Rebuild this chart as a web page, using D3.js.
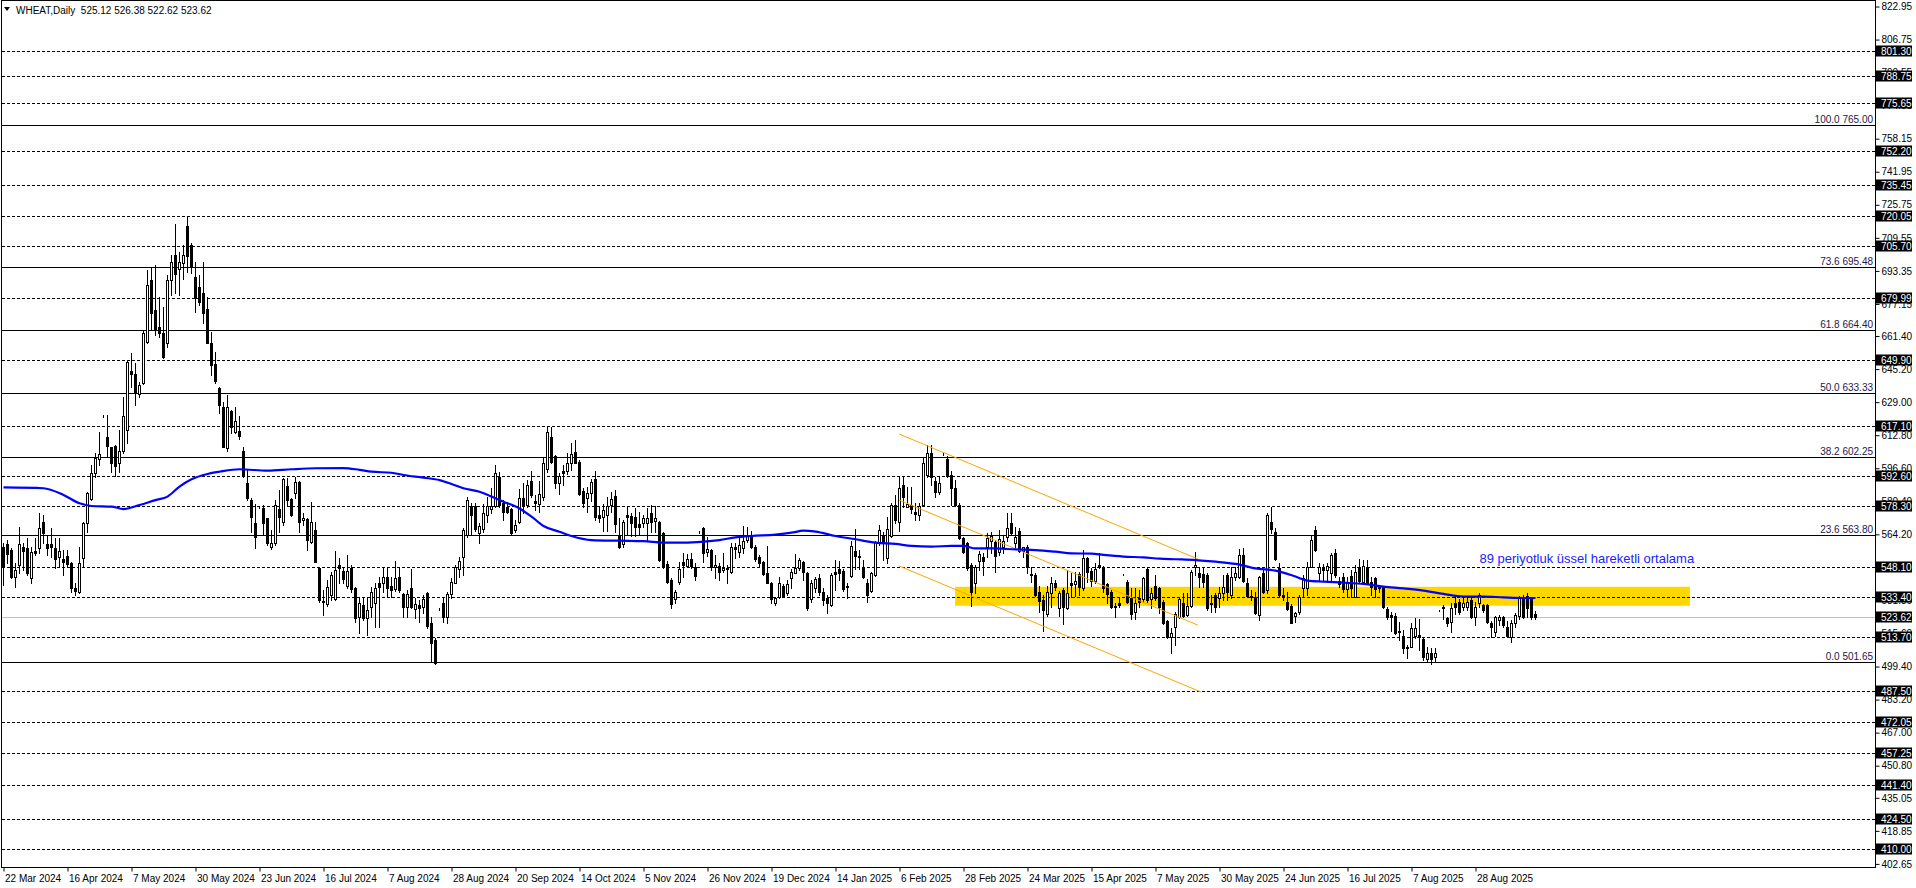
<!DOCTYPE html>
<html><head><meta charset="utf-8">
<script src="https://cdn.jsdelivr.net/npm/d3@7"></script>
<style>
body{margin:0;background:#fff;}
svg{display:block;}
text{font-family:"Liberation Sans",Arial,sans-serif;}
</style>
</head><body>
<svg id="chart" width="1916" height="888"></svg>
<script>
const symbolTitle = "WHEAT,Daily";
const lastQuote = ["525.12", "526.38", "522.62", "523.62"];
const dateLabels = ["22 Mar 2024","16 Apr 2024","7 May 2024","30 May 2024","23 Jun 2024","16 Jul 2024","7 Aug 2024","28 Aug 2024","20 Sep 2024","14 Oct 2024","5 Nov 2024","26 Nov 2024","19 Dec 2024","14 Jan 2025","6 Feb 2025","28 Feb 2025","24 Mar 2025","15 Apr 2025","7 May 2025","30 May 2025","24 Jun 2025","16 Jul 2025","7 Aug 2025","28 Aug 2025"];
const barsPerDateLabel = 16;
const priceTicks = [822.95,806.75,790.55,774.35,758.15,741.95,725.75,709.55,693.35,677.15,661.40,645.20,629.00,612.80,596.60,580.40,564.20,548.00,531.80,515.60,499.40,483.20,467.00,450.80,435.05,418.85,402.65];
const levelLines = [801.30,788.75,775.65,752.20,735.45,720.05,705.70,679.99,649.90,617.10,592.60,578.30,548.10,533.40,513.70,487.50,472.05,457.25,441.40,424.50,410.00];
const fibRatios = ["100.0","73.6","61.8","50.0","38.2","23.6","0.0"];
const fibPrices = [765.00,695.48,664.40,633.33,602.25,563.80,501.65];
const currentPrice = 523.62;
const emaLabel = "89 periyotluk üssel hareketli ortalama";
const emaLabelAnchor = [369, 552.5];
// channel lines: [barIndex, price] endpoints
const channelStart = [[223.9,613.4],[223.9,581.0],[223.9,548.7]];
const channelEnd = [[298.6,552.1],[298.6,519.7],[299.4,486.9]];
const zoneBars = [237.9, 421.6];
const zonePrices = [529.2, 538.5];
// daily candles [open, high, low, close]
const ohlc = [
[558.1,559.8,539.4,548.4],[559.3,561.4,550.0,554.4],[556.5,557.3,542.6,543.5],[543.5,550.0,538.5,546.7],[549.2,568.0,545.1,559.3],
[557.8,559.8,546.7,556.2],[557.3,562.2,544.3,545.4],[542.6,558.1,540.2,555.7],[556.2,562.2,554.1,555.2],[557.3,574.5,554.9,567.1],
[570.4,573.7,559.8,564.7],[559.3,563.9,554.1,557.3],[559.3,567.1,553.3,557.8],[557.3,562.2,547.5,552.0],[552.9,562.2,548.4,556.2],
[552.1,556.5,544.3,550.8],[553.6,556.5,548.4,549.7],[550.0,550.8,536.1,537.7],[538.1,540.2,534.5,536.6],[536.1,558.1,535.3,550.0],
[552.4,570.4,548.4,569.6],[569.6,585.1,565.5,584.3],[581.4,598.2,581.0,594.1],[594.1,603.9,592.5,601.4],[601.0,614.5,598.2,603.6],
[621.9,622.5,621.5,621.9],[611.8,622.7,602.6,607.5],[606.8,607.2,594.9,599.3],[607.5,608.0,592.8,597.7],[599.3,615.4,594.9,605.2],
[605.2,631.7,603.9,622.2],[615.4,649.7,608.8,648.5],[644.4,653.3,636.6,642.8],[642.8,648.0,627.6,633.3],[633.0,639.0,631.4,637.4],
[638.5,664.4,637.7,662.7],[658.7,693.8,657.8,686.4],[688.9,695.4,664.4,672.5],[674.2,696.2,661.9,664.7],[665.7,680.7,661.1,662.7],
[663.1,675.8,650.5,651.3],[658.2,691.3,656.2,688.9],[688.9,701.1,681.5,697.5],[701.1,716.3,682.3,691.8],[694.1,702.8,681.5,697.9],
[697.4,706.0,689.2,701.1],[715.4,719.9,693.0,700.6],[706.0,706.9,692.5,695.4],[690.5,697.9,673.4,680.2],[685.3,691.3,676.6,678.3],
[682.3,697.9,667.6,672.9],[674.5,680.7,657.8,658.2],[657.8,663.6,642.3,647.2],[647.7,653.8,638.2,639.5],[635.8,636.6,623.5,627.6],
[626.5,629.2,606.8,607.2],[606.4,632.5,605.2,626.5],[624.8,625.2,613.7,616.7],[614.2,626.8,613.7,619.9],[615.0,622.2,610.8,612.6],
[605.2,606.9,592.2,592.8],[589.2,595.7,581.0,582.2],[581.0,581.8,565.5,572.9],[569.6,579.1,557.3,562.7],[577.0,577.5,577.0,577.0],
[577.0,578.6,563.9,569.9],[572.0,572.4,559.0,560.1],[558.2,566.3,556.9,560.1],[559.8,581.0,559.0,578.6],[576.5,585.9,565.5,572.9],
[570.4,591.6,568.8,591.2],[587.9,591.6,578.6,581.0],[581.4,582.2,573.2,573.7],[584.3,592.5,581.8,590.0],[590.0,590.4,565.5,570.4],
[571.0,574.5,568.8,572.1],[571.6,572.1,556.5,561.4],[560.6,580.2,559.8,570.4],[566.3,570.4,550.8,550.8],[547.5,548.4,531.2,532.0],
[531.5,536.9,524.7,530.9],[529.9,541.8,529.1,538.5],[534.5,545.9,532.0,544.3],[532.3,556.2,532.0,546.7],[549.2,552.4,540.2,547.9],
[546.4,548.4,540.2,542.3],[538.9,554.1,537.7,546.4],[547.5,549.2,536.1,537.2],[537.7,538.5,521.4,523.0],[523.8,532.8,515.7,530.4],
[529.6,532.8,522.2,523.0],[523.0,533.6,514.9,527.1],[528.4,538.5,523.8,536.1],[530.4,540.2,518.9,537.7],[540.2,543.5,518.9,538.5],
[540.2,548.4,536.1,543.1],[543.5,548.4,533.6,537.7],[538.9,543.4,533.6,536.9],[537.2,551.3,536.6,542.6],[543.4,547.5,536.1,536.9],
[534.9,535.6,523.8,528.7],[528.7,536.9,523.8,534.9],[537.7,547.1,527.9,528.4],[527.4,532.8,523.0,530.0],[529.5,532.0,521.4,527.9],
[528.4,534.5,525.4,532.3],[535.3,536.1,518.1,519.3],[520.6,523.8,501.8,510.8],[512.4,513.2,500.6,501.0],[527.6,528.0,527.2,527.6],
[530.7,532.8,521.4,523.8],[523.8,536.1,520.9,534.9],[534.9,542.6,532.8,541.0],[540.5,549.2,540.2,548.4],[547.1,553.3,543.4,551.1],
[552.9,567.1,544.3,566.3],[563.9,582.3,563.1,581.0],[578.1,579.4,563.9,573.7],[578.1,579.4,566.0,566.7],[564.7,569.9,560.1,568.3],
[566.7,579.1,565.5,574.5],[573.7,582.3,570.4,578.1],[576.5,586.7,574.5,578.1],[578.1,598.2,577.4,594.1],[592.5,594.9,577.8,578.6],
[579.4,581.0,571.2,575.3],[577.4,580.2,574.5,575.3],[576.5,576.9,563.9,564.7],[566.3,571.2,565.5,568.8],[570.4,586.2,569.9,581.8],
[581.8,589.2,574.5,578.6],[578.6,590.8,577.8,588.4],[590.5,595.4,582.7,583.5],[580.7,583.5,576.1,579.7],[579.1,590.5,575.3,583.8],
[582.7,602.3,581.0,599.0],[596.0,616.7,594.9,614.5],[612.1,616.7,599.0,599.8],[602.6,603.1,586.7,589.5],[589.2,594.4,584.0,592.8],
[595.4,598.2,588.4,594.1],[595.4,604.2,593.8,599.0],[599.0,608.8,595.7,603.6],[604.7,610.4,599.0,599.3],[599.8,600.6,583.5,584.0],
[585.6,586.7,577.8,579.7],[581.8,587.2,575.3,584.6],[584.6,591.2,580.7,590.0],[591.2,595.4,571.2,572.5],[573.7,577.8,570.4,572.1],
[572.9,579.1,566.0,576.1],[573.7,582.7,566.0,578.1],[578.6,585.1,575.3,581.4],[583.0,585.9,565.5,569.3],[563.9,572.1,557.3,558.2],
[559.5,571.2,558.2,570.4],[573.7,578.1,563.9,572.5],[573.2,574.5,563.4,569.9],[572.5,576.9,563.4,567.9],[569.1,575.3,563.9,567.9],
[569.6,573.7,567.9,572.1],[569.9,576.9,561.1,572.1],[574.8,578.6,565.5,570.4],[570.9,578.1,565.5,572.1],[570.4,570.9,551.3,551.6],
[564.7,565.5,547.5,548.4],[549.7,551.3,540.5,541.0],[541.8,542.6,527.9,530.0],[532.3,536.9,530.4,536.1],[541.0,550.8,539.8,547.1],
[550.5,554.9,543.4,549.2],[548.6,554.6,548.0,551.9],[551.9,554.9,547.5,548.6],[548.0,550.0,541.8,543.9],[565.2,565.6,564.8,565.2],
[567.1,567.9,550.8,554.9],[555.7,563.1,553.6,556.8],[556.5,556.8,546.7,548.0],[548.0,554.1,542.6,549.2],[548.6,550.0,541.8,545.9],
[546.7,555.2,545.9,547.5],[547.9,549.2,540.2,547.1],[545.9,559.8,545.1,557.8],[558.2,559.8,552.4,556.8],[555.7,562.7,553.3,559.0],
[557.3,568.3,555.2,561.1],[561.4,567.9,560.6,563.9],[563.9,566.0,557.3,557.8],[558.2,559.0,551.3,551.9],[553.3,554.1,548.4,550.0],
[550.8,551.3,544.3,544.7],[545.1,558.5,540.2,540.5],[540.5,541.0,530.4,532.3],[530.7,533.6,529.6,532.8],[533.6,543.4,532.8,540.5],
[538.9,539.8,533.6,534.0],[535.3,541.8,534.5,539.9],[542.6,547.1,537.7,545.9],[545.4,554.4,545.1,547.5],[547.5,552.4,546.7,551.6],
[550.8,551.3,541.8,545.9],[545.1,545.9,527.1,528.0],[532.3,541.8,531.2,540.2],[537.7,543.4,536.1,542.2],[542.6,544.7,534.5,536.1],
[536.1,537.7,529.6,532.0],[532.8,534.5,525.8,530.7],[529.6,545.1,529.1,544.3],[545.9,551.6,536.9,544.7],[547.1,551.3,541.8,545.4],
[546.4,547.1,536.6,537.2],[539.0,540.5,532.8,538.2],[543.8,561.1,543.1,558.5],[556.2,566.6,547.1,553.6],[553.6,556.5,547.1,552.9],
[548.4,551.6,542.6,543.4],[540.2,542.2,531.2,534.5],[536.6,545.9,536.1,545.1],[544.3,561.1,543.8,560.6],[560.6,568.8,559.0,566.3],
[563.9,565.5,551.6,560.1],[552.4,572.9,550.3,566.7],[563.4,579.4,563.1,578.6],[578.6,583.5,569.6,571.2],[570.4,592.5,566.0,586.7],
[588.4,592.8,577.8,582.3],[577.8,587.6,577.4,579.1],[578.6,587.6,574.8,576.5],[575.3,579.4,571.2,574.2],[573.7,579.4,571.2,578.1],
[578.6,602.3,578.1,599.0],[593.3,608.0,592.5,603.9],[603.9,608.0,588.4,592.5],[590.5,592.5,582.7,585.1],[585.1,592.8,583.9,589.2],
[603.6,604.0,603.2,603.6],[601.0,602.6,592.5,592.8],[593.3,595.4,578.6,586.8],[586.8,590.8,578.1,578.6],[578.6,579.4,561.8,562.3],
[562.3,563.1,555.2,555.7],[559.8,560.6,546.7,547.5],[549.2,550.0,529.1,536.1],[540.5,549.2,535.6,548.0],[551.3,556.2,546.7,554.6],
[553.3,554.9,544.3,551.3],[557.8,564.7,552.9,562.3],[561.1,565.5,555.2,563.4],[560.6,561.4,545.9,553.6],[555.7,566.3,554.1,561.8],
[558.2,563.4,555.2,561.1],[562.7,574.8,561.1,567.1],[569.9,574.5,563.9,565.0],[559.8,568.0,557.3,563.1],[566.0,567.1,555.7,556.2],
[556.2,558.2,552.9,557.8],[558.2,559.0,545.4,548.0],[544.7,548.4,541.0,544.3],[544.3,545.1,534.0,534.5],[536.1,538.9,526.3,531.7],
[532.0,534.5,517.0,527.1],[525.1,538.9,524.2,536.1],[535.3,543.4,528.7,540.2],[540.5,541.8,536.9,538.5],[527.9,536.6,524.2,535.6],
[536.9,537.7,520.2,528.4],[527.9,546.7,527.4,535.6],[540.2,545.1,533.6,539.4],[539.8,545.9,534.0,541.5],[544.7,545.9,534.5,538.5],
[537.7,556.5,536.9,552.4],[552.4,553.3,541.0,545.9],[546.4,547.5,538.9,541.5],[541.5,550.3,540.5,547.1],[549.2,554.9,547.5,548.4],
[548.4,548.7,536.1,537.7],[539.9,540.5,530.7,535.0],[536.1,536.9,527.9,528.4],[529.1,530.7,523.8,528.4],[530.7,533.6,528.7,529.6],
[544.6,545.0,544.2,544.6],[540.7,541.8,530.7,531.2],[532.8,537.7,522.5,525.1],[526.3,537.7,522.5,530.4],[532.8,536.9,528.4,531.2],
[532.3,543.4,531.2,542.6],[547.1,547.5,531.2,532.0],[532.3,537.7,527.9,535.6],[539.0,544.3,532.0,533.0],[537.7,538.5,525.5,528.8],
[531.2,532.0,520.2,520.6],[521.9,522.2,513.2,514.0],[514.0,518.1,505.9,516.0],[518.6,526.3,509.9,525.1],[523.8,533.3,523.0,532.3],
[530.7,535.3,523.5,524.2],[524.7,535.6,524.2,529.1],[529.1,546.7,528.8,545.9],[548.0,555.7,544.3,549.2],[545.1,548.4,538.5,543.1],
[544.7,548.4,538.5,541.0],[544.3,545.1,527.1,528.0],[530.4,534.5,526.3,530.1],[534.5,535.3,526.3,528.8],[532.8,538.5,528.8,535.6],
[535.6,544.3,532.0,538.5],[544.3,545.1,532.0,536.1],[534.5,548.4,532.8,543.1],[543.1,548.0,541.8,545.1],[543.5,556.9,542.6,554.0],
[554.0,557.3,541.0,541.5],[540.5,542.6,533.3,534.0],[534.0,536.9,532.0,533.7],[533.7,536.1,525.2,525.5],[524.7,543.8,522.2,543.1],
[545.1,546.7,535.3,536.1],[536.9,574.5,535.6,573.7],[570.4,577.8,565.0,566.7],[565.5,567.1,551.6,552.0],[547.5,550.0,534.0,534.5],
[534.5,537.7,532.0,533.7],[531.2,536.1,527.1,527.4],[529.1,530.1,520.6,520.9],[524.0,526.3,521.4,525.5],[526.0,534.5,525.0,533.5],
[537.7,544.3,534.0,542.6],[537.7,550.8,534.5,548.4],[548.4,563.4,548.0,561.4],[566.3,568.3,556.2,556.5],[545.4,550.0,541.8,548.0],
[548.4,549.7,541.8,546.7],[546.7,550.3,541.5,548.7],[545.1,554.9,541.0,554.0],[554.9,556.9,543.5,544.3],[541.5,543.5,538.2,539.9],
[543.1,545.1,536.1,537.2],[537.2,543.5,533.3,541.0],[543.8,546.7,533.3,537.7],[533.7,549.2,533.3,545.9],[548.4,552.0,541.0,541.5],
[541.0,551.6,540.2,548.7],[548.4,551.6,539.9,540.5],[541.0,543.5,534.5,538.5],[542.6,543.5,533.7,537.2],[538.5,539.4,536.1,537.7],
[538.2,538.9,527.9,528.8],[527.4,528.8,522.5,523.5],[524.7,526.3,517.0,523.8],[524.2,525.5,515.4,516.0],[517.0,521.4,512.4,516.5],
[514.4,517.3,505.9,508.3],[508.8,510.0,503.4,508.3],[509.1,520.6,508.8,518.1],[514.4,523.0,513.2,518.1],[514.9,522.5,507.5,514.0],
[512.7,513.2,502.6,504.2],[503.0,508.8,502.3,506.2],[506.2,508.3,500.6,503.0],[504.2,508.3,501.8,505.9],[526.8,527.2,526.4,526.8],
[528.8,529.6,522.5,528.0],[523.0,523.8,519.3,520.9],[521.4,530.4,516.5,527.9],[530.4,533.7,525.2,528.8],[531.2,532.3,525.2,526.3],
[528.8,533.7,527.1,530.4],[528.4,533.3,527.1,531.2],[532.0,533.7,523.0,523.5],[523.5,531.2,519.8,528.8],[530.4,535.6,528.8,534.5],
[529.6,530.1,526.3,527.1],[529.6,530.1,520.6,521.4],[520.9,521.9,514.0,518.9],[516.5,524.2,514.4,523.5],[522.2,524.7,519.8,523.8],
[523.8,524.2,518.9,519.8],[518.9,521.9,514.0,514.4],[514.0,522.2,511.6,520.9],[520.9,525.5,518.9,524.7],[524.2,534.0,522.5,533.3],
[533.7,534.5,523.0,523.8],[534.0,535.6,523.8,527.9],[532.8,533.7,522.5,523.8],[525.12,526.38,522.62,523.62]
];
// 89-period EMA: bar index and value
const emaBars = [0,10,15,19,22,27,30,34,38,41,44,47,51,54,59,66,72,78,85,89,92,97,100,105,109,112,115,119,122,125,129,132,135,139,142,147,154,160,165,170,175,179,183,187,193,197,200,203,208,213,218,223,227,232,237,240,243,248,253,258,263,267,272,275,280,285,289,293,298,303,308,313,318,323,326,330,335,340,345,350,355,360,365,370,375,380,383];
const emaValues = [587.2,586.8,583.5,579.4,578.1,577.8,576.6,578.6,581.0,582.7,587.6,591.2,593.8,594.9,596.1,595.4,596.1,596.6,596.7,595.8,594.9,594.4,593.3,592.0,590.8,588.9,586.8,585.1,582.7,580.2,576.9,572.9,568.3,565.5,563.4,561.4,561.1,560.9,560.1,560.1,560.6,561.4,562.7,563.4,564.1,565.0,566.0,565.5,563.4,561.8,560.1,559.5,558.5,558.2,558.5,558.5,557.3,557.3,556.8,556.5,555.7,554.9,554.7,554.1,553.3,552.9,552.3,552.0,551.6,550.8,549.7,547.5,546.4,543.5,541.5,541.0,540.5,539.9,538.6,537.7,536.6,535.0,533.7,533.7,533.3,533.0,533.0];

// ---------- drawing ----------
const W = 1916, H = 888;
const plot = {left: 2, top: 1, right: 1875, bottom: 867};
const svg = d3.select("#chart");
svg.append("rect").attr("width", W).attr("height", H).attr("fill", "#fff");

const x = d3.scaleLinear().domain([0, ohlc.length - 1]).range([3.5, 3.5 + 4 * (ohlc.length - 1)]);
const y = d3.scaleLinear().domain([402.65, 822.95]).range([863.9, 6.5]);
const py = v => Math.round(y(v)) + 0.5;

const g = svg.append("g");

// zone rectangle (background)
g.append("rect")
  .attr("x", x(zoneBars[0])).attr("width", x(zoneBars[1]) - x(zoneBars[0]))
  .attr("y", y(zonePrices[1])).attr("height", y(zonePrices[0]) - y(zonePrices[1]))
  .attr("fill", "#FFD700");

// dashed levels
g.selectAll("line.lvl").data(levelLines).enter().append("line")
  .attr("x1", plot.left).attr("x2", plot.right)
  .attr("y1", d => py(d)).attr("y2", d => py(d))
  .attr("stroke", "#000").attr("stroke-width", 1).attr("stroke-dasharray", "3,2");

// fibonacci lines
g.selectAll("line.fib").data(fibPrices).enter().append("line")
  .attr("x1", plot.left).attr("x2", plot.right)
  .attr("y1", d => py(d)).attr("y2", d => py(d))
  .attr("stroke", "#000").attr("stroke-width", 1);
g.selectAll("text.fib").data(fibPrices).enter().append("text")
  .attr("x", plot.right - 2).attr("y", d => py(d) - 2.5)
  .attr("text-anchor", "end").attr("font-size", 10).attr("fill", "#1a2050")
  .text((d, i) => fibRatios[i] + " " + d.toFixed(2));

// current price line
g.append("line").attr("x1", plot.left).attr("x2", plot.right)
  .attr("y1", py(currentPrice)).attr("y2", py(currentPrice))
  .attr("stroke", "#c0c0c0").attr("stroke-width", 1);

// candles
const cg = g.append("g");
ohlc.forEach((d, i) => {
  const [o, h, l, c] = d;
  const cx = Math.round(x(i) - 0.5) + 0.5;
  cg.append("line").attr("x1", cx).attr("x2", cx)
    .attr("y1", Math.round(y(h))).attr("y2", Math.round(y(l)) + 1)
    .attr("stroke", "#000").attr("stroke-width", 1);
  const top = py(Math.max(o, c)), bot = py(Math.min(o, c));
  cg.append("rect").attr("x", cx - 1).attr("width", 2)
    .attr("y", top).attr("height", Math.max(0, bot - top))
    .attr("fill", c >= o ? "#fff" : "#000")
    .attr("stroke", "#000").attr("stroke-width", 1);
});

// channel lines
channelStart.forEach((s, i) => {
  const e = channelEnd[i];
  g.append("line")
    .attr("x1", x(s[0])).attr("y1", y(s[1]))
    .attr("x2", x(e[0])).attr("y2", y(e[1]))
    .attr("stroke", "#FFA500").attr("stroke-width", 1);
});

// EMA line
const emaLine = d3.line().x((d, i) => x(emaBars[i])).y(d => y(d)).curve(d3.curveMonotoneX);
g.append("path").datum(emaValues).attr("d", emaLine)
  .attr("fill", "none").attr("stroke", "#0000FF").attr("stroke-width", 2.2);

g.append("text").attr("x", x(emaLabelAnchor[0])).attr("y", y(emaLabelAnchor[1]) + 4.5)
  .attr("font-size", 13).attr("fill", "#2222ff").text(emaLabel);

// frame
svg.append("line").attr("x1", 1.5).attr("x2", 1.5).attr("y1", 0).attr("y2", plot.bottom + 0.5).attr("stroke", "#000");
svg.append("line").attr("x1", 1).attr("x2", plot.right + 0.5).attr("y1", 0.5).attr("y2", 0.5).attr("stroke", "#000");
svg.append("line").attr("x1", plot.right + 0.5).attr("x2", plot.right + 0.5).attr("y1", 0).attr("y2", plot.bottom + 1).attr("stroke", "#000");
svg.append("line").attr("x1", 1).attr("x2", plot.right + 1).attr("y1", plot.bottom + 0.5).attr("y2", plot.bottom + 0.5).attr("stroke", "#000");

// right price axis
const yAxis = d3.axisRight(y).tickValues(priceTicks).tickFormat(d => d.toFixed(2)).tickSize(4).tickPadding(2);
const ya = svg.append("g").attr("transform", `translate(${plot.right + 0.5},0)`).call(yAxis);
ya.select(".domain").remove();
ya.selectAll(".tick line").attr("stroke", "#000");
ya.selectAll(".tick text").attr("font-size", 10).attr("font-family", "Liberation Sans, Arial, sans-serif").attr("fill", "#000");

// level boxes on axis
const boxVals = levelLines.concat([currentPrice]);
const bx = svg.append("g");
boxVals.forEach(v => {
  const cy = y(v);
  bx.append("rect").attr("x", plot.right + 1).attr("y", Math.round(cy) - 5.5).attr("width", 36).attr("height", 11).attr("fill", "#000");
  bx.append("text").attr("x", plot.right + 6).attr("y", Math.round(cy) + 4)
    .attr("font-size", 10).attr("fill", "#fff").text(v.toFixed(2));
});

// bottom date axis
const xAxis = d3.axisBottom(x).tickValues(d3.range(0, ohlc.length, barsPerDateLabel))
  .tickFormat((d, i) => dateLabels[i]).tickSize(4).tickPadding(3);
const xa = svg.append("g").attr("transform", `translate(0,${plot.bottom + 0.5})`).call(xAxis);
xa.select(".domain").remove();
xa.selectAll(".tick line").attr("stroke", "#000");
xa.selectAll(".tick text").attr("font-size", 10).attr("font-family", "Liberation Sans, Arial, sans-serif")
  .attr("fill", "#000").attr("text-anchor", "start").attr("dx", 1);

// header
svg.append("path").attr("d", "M4,7 L10,7 L7,11 Z").attr("fill", "#000");
svg.append("text").attr("x", 16).attr("y", 13.5).attr("font-size", 10).attr("fill", "#000")
  .style("white-space", "pre").text(symbolTitle + "  " + lastQuote.join(" "));
</script>
</body></html>
